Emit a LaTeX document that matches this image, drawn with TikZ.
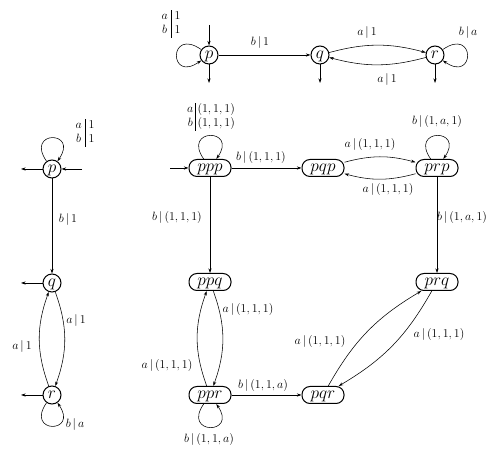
\documentclass[tikz,border=0pt]{standalone}
\usetikzlibrary{arrows.meta}
\newcommand\stfont{\fontsize{17}{17}\selectfont}
\newcommand\lbfont{\fontsize{12.5}{14}\selectfont}
\begin{document}
\begin{tikzpicture}[x=1pt,y=1pt,
  st/.style={circle,draw,line width=1pt,minimum size=18pt,inner sep=0pt,font=\stfont,text depth=0pt},
  pst/.style={rectangle,rounded corners=8pt,draw,line width=1pt,minimum width=42pt,minimum height=17pt,inner sep=0pt,font=\stfont,text depth=0pt},
  tr/.style={-{Stealth[length=4.5pt,width=3pt]},line width=0.55pt},
  lb/.style={font=\lbfont,inner sep=0pt},
  loopA/.style={out=125,in=55,looseness=1,min distance=38pt},
  loopB/.style={out=235,in=305,looseness=1,min distance=38pt},
  loopL/.style={out=145,in=215,looseness=1,min distance=40pt},
  loopR/.style={out=35,in=325,looseness=1,min distance=40pt}]
\useasboundingbox (0,0) rectangle (490,452);
% ---------- top automaton ----------
\node[st] (P1) at (209,397) {$p$};
\node[st] (Q1) at (320,397) {$q$};
\node[st] (R1) at (435,397) {$r$};
\coordinate (P1i) at (209,427);
\coordinate (P1f) at (209,369);
\coordinate (Q1f) at (320,369);
\coordinate (R1f) at (435,369);
\draw[tr] (P1i) -- (P1);
\draw[tr] (P1) -- (P1f);
\draw[tr] (Q1) -- (Q1f);
\draw[tr] (R1) -- (R1f);
\draw[tr] (P1) to[loopL] (P1);
\draw[tr] (P1) -- (Q1);
\draw[tr] (Q1) to[bend left=15] (R1);
\draw[tr] (R1) to[bend left=15] (Q1);
\draw[tr] (R1) to[loopR] (R1);
\node[lb] (l1) at (171,428) {$\begin{array}{@{}c@{\;}|@{\;}l@{}} a&1\\ b&1\end{array}$};
\node[lb] (l2) at (260,409) {$b\,|\,1$};
\node[lb] (l3) at (367,419) {$a\,|\,1$};
\node[lb] (l4) at (387,372) {$a\,|\,1$};
\node[lb] (l5) at (468,419) {$b\,|\,a$};
% ---------- left automaton ----------
\node[st] (P2) at (52,283) {$p$};
\node[st] (Q2) at (52,169) {$q$};
\node[st] (R2) at (52,57) {$r$};
\coordinate (P2i) at (82,283);
\coordinate (P2f) at (21,283);
\coordinate (Q2f) at (21,169);
\coordinate (R2f) at (21,57);
\draw[tr] (P2i) -- (P2);
\draw[tr] (P2) -- (P2f);
\draw[tr] (Q2) -- (Q2f);
\draw[tr] (R2) -- (R2f);
\draw[tr] (P2) to[loopA] (P2);
\draw[tr] (P2) -- (Q2);
\draw[tr] (Q2) to[bend left=20] (R2);
\draw[tr] (R2) to[bend left=20] (Q2);
\draw[tr] (R2) to[loopB] (R2);
\node[lb] (m1) at (85,319) {$\begin{array}{@{}c@{\;}|@{\;}l@{}} a&1\\ b&1\end{array}$};
\node[lb] (m2) at (68,232) {$b\,|\,1$};
\node[lb] (m3) at (76,131) {$a\,|\,1$};
\node[lb] (m4) at (22,105) {$a\,|\,1$};
\node[lb] (m5) at (75,27) {$b\,|\,a$};
% ---------- product automaton ----------
\node[pst] (ppp) at (210,284) {$ppp$};
\node[pst] (pqp) at (323,284) {$pqp$};
\node[pst] (prp) at (437,284) {$prp$};
\node[pst] (ppq) at (210,170) {$ppq$};
\node[pst] (prq) at (437,170) {$prq$};
\node[pst] (ppr) at (210,57) {$ppr$};
\node[pst] (pqr) at (323,57) {$pqr$};
\coordinate (pppi) at (170,284);
\draw[tr] (pppi) -- (ppp);
\draw[tr] (ppp) to[loopA] (ppp);
\draw[tr] (ppp) -- (pqp);
\draw[tr] (pqp) to[bend left=15] (prp);
\draw[tr] (prp) to[bend left=15] (pqp);
\draw[tr] (prp) to[loopA] (prp);
\draw[tr] (ppp) -- (ppq);
\draw[tr] (prp) -- (prq);
\draw[tr] (ppq) to[bend left=20] (ppr);
\draw[tr] (ppr) to[bend left=20] (ppq);
\draw[tr] (ppr) to[loopB] (ppr);
\draw[tr] (ppr) -- (pqr);
\draw[tr] (pqr) to[bend left=15] (prq);
\draw[tr] (prq) to[bend left=15] (pqr);
\node[lb] (n1) at (211,335) {$\begin{array}{@{}c@{\,}|@{\,}l@{}} a&(1,1,1)\\ b&(1,1,1)\end{array}$};
\node[lb] (n2) at (261,294) {$b\,|\,(1,1,1)$};
\node[lb] (n3) at (370,307) {$a\,|\,(1,1,1)$};
\node[lb] (n4) at (388,262) {$a\,|\,(1,1,1)$};
\node[lb] (n5) at (437,330) {$b\,|\,(1,a,1)$};
\node[lb] (n6) at (177,234) {$b\,|\,(1,1,1)$};
\node[lb] (n7) at (462,234) {$b\,|\,(1,a,1)$};
\node[lb] (n8) at (248,142) {$a\,|\,(1,1,1)$};
\node[lb] (n9) at (167,86) {$a\,|\,(1,1,1)$};
\node[lb] (n10) at (263,66) {$b\,|\,(1,1,a)$};
\node[lb] (n11) at (209,12) {$b\,|\,(1,1,a)$};
\node[lb] (n12) at (320,110) {$a\,|\,(1,1,1)$};
\node[lb] (n13) at (439,117) {$a\,|\,(1,1,1)$};
\end{tikzpicture}
\end{document}
